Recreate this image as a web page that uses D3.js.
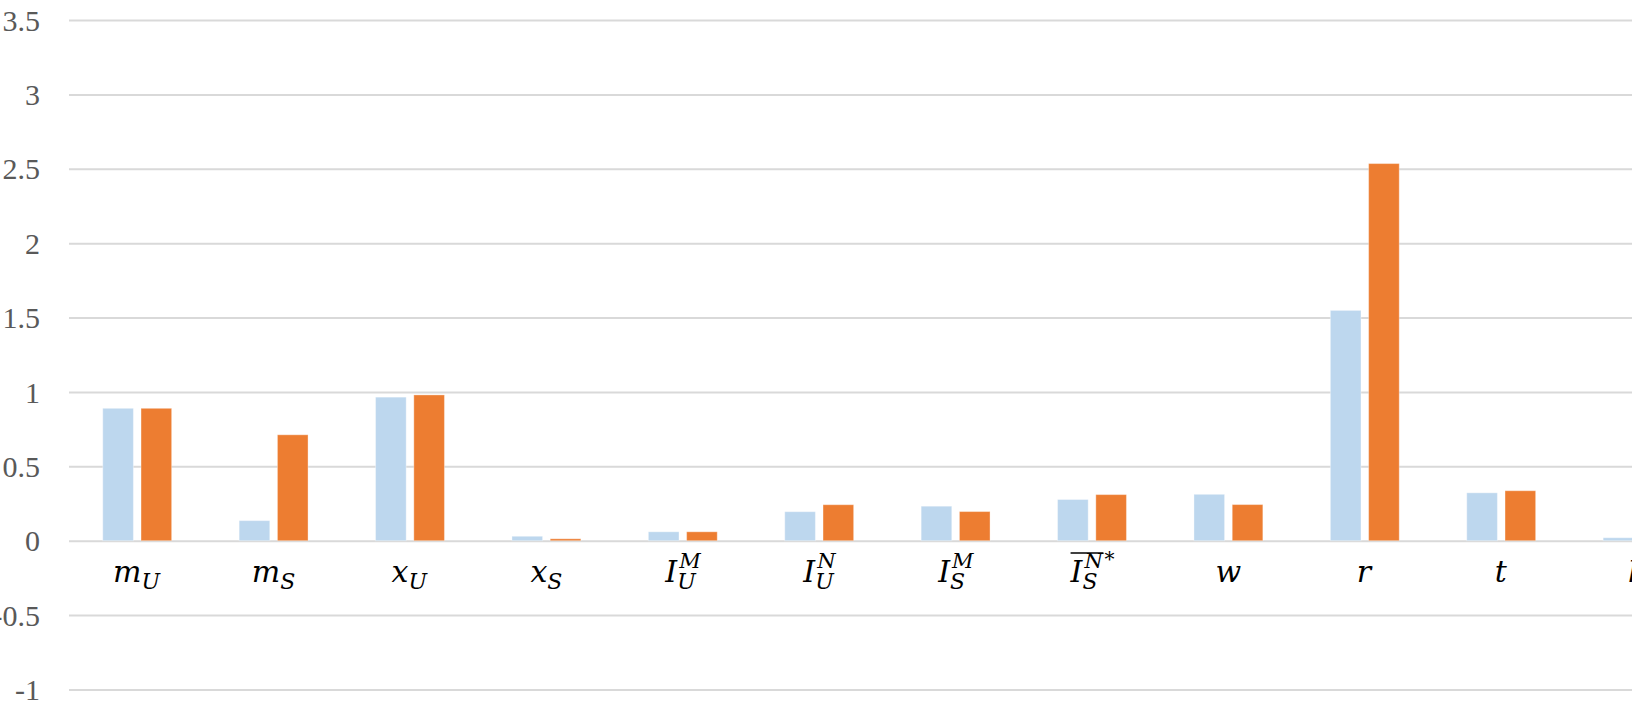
<!DOCTYPE html>
<html>
<head>
<meta charset="utf-8">
<script src="https://cdn.jsdelivr.net/npm/d3@7"></script>
<style>
  body { margin: 0; background: #fff; overflow: hidden; }
</style>
</head>
<body>
<svg id="chart" width="1632" height="704"></svg>
<script>
// categories: "_" subscript, "^" superscript, leading "~" overline, trailing "*" star
var categories = ["m_U", "m_S", "x_U", "x_S", "I_U^M", "I_U^N", "I_S^M", "~I_S^N*", "w", "r", "t", "b"];
var seriesA = [0.89, 0.135, 0.965, 0.03, 0.06, 0.195, 0.232, 0.277, 0.312, 1.548, 0.322, 0.02];
var seriesB = [0.89, 0.712, 0.98, 0.013, 0.06, 0.242, 0.196, 0.31, 0.243, 2.535, 0.336, 0.02];
var tickValues = [-1, -0.5, 0, 0.5, 1, 1.5, 2, 2.5, 3, 3.5];
var tickLabels = ["-1", "-0.5", "0", "0.5", "1", "1.5", "2", "2.5", "3", "3.5"];

var svg = d3.select("#chart");
var left = 69, step = 136.4;

var x0 = d3.scaleBand()
  .domain(categories)
  .range([left, left + step * categories.length])
  .paddingInner(0.495)
  .paddingOuter(0.2475);

var x1 = d3.scaleBand()
  .domain([0, 1])
  .range([0, x0.bandwidth()])
  .paddingInner(0.2)
  .paddingOuter(0);

var y = d3.scaleLinear().domain([-1, 3.5]).range([689.5, 20]);

// gridlines + y labels
var yAxis = d3.axisLeft(y)
  .tickValues(tickValues)
  .tickSize(-(1632 - left))
  .tickFormat(function (d, i) { return tickLabels[i]; });
var ax = svg.append("g")
  .attr("transform", "translate(" + left + ",0)")
  .call(yAxis);
ax.select(".domain").remove();
ax.selectAll(".tick line").attr("stroke", "#d9d9d9").attr("stroke-width", 2);
ax.selectAll(".tick text")
  .attr("x", -29)
  .attr("dy", "0.34em")
  .attr("fill", "#595959")
  .style("font-family", "'Liberation Serif', 'Times New Roman', serif")
  .style("font-size", "30px");

// bars
var series = [
  { values: seriesA, color: "#bdd7ee" },
  { values: seriesB, color: "#ed7d31" }
];
series.forEach(function (s, si) {
  svg.append("g")
    .selectAll("rect")
    .data(categories)
    .enter()
    .append("rect")
    .attr("x", function (d) { return x0(d) + x1(si); })
    .attr("width", x1.bandwidth())
    .attr("y", function (d, i) { return y(Math.max(0, s.values[i])); })
    .attr("height", function (d, i) { return Math.abs(y(s.values[i]) - y(0)); })
    .attr("fill", s.color)
    .attr("stroke", "#ffffff")
    .attr("stroke-opacity", 0.35)
    .attr("stroke-width", 1);
});

// category labels (math style)
var labelFont = "'DejaVu Serif', 'Liberation Serif', serif";
var baseY = 582;
categories.forEach(function (c) {
  var over = c.charAt(0) === "~";
  var star = c.charAt(c.length - 1) === "*";
  var s = c.replace("~", "").replace("*", "");
  var base = s.charAt(0);
  var sub = (s.match(/_([A-Za-z])/) || [])[1];
  var sup = (s.match(/\^([A-Za-z])/) || [])[1];

  var g = svg.append("g");
  var t = g.append("text")
    .attr("x", 0)
    .attr("y", baseY)
    .style("font-family", labelFont)
    .style("font-style", "italic")
    .attr("fill", "#000");
  t.append("tspan").style("font-size", "30px").text(base);
  var subW = 0;
  if (sub) {
    var ts = t.append("tspan").attr("y", baseY + 7).style("font-size", "22px").text(sub);
    subW = ts.node().getComputedTextLength();
  }
  if (sup) {
    t.append("tspan")
      .attr("dx", sub ? -subW + 2 : 0)
      .attr("y", baseY - 14)
      .style("font-size", "21px")
      .text(sup);
  }
  var bb = t.node().getBBox();
  var w = bb.width;
  if (over) {
    g.append("line")
      .attr("x1", bb.x + 1).attr("x2", bb.x + bb.width)
      .attr("y1", 553).attr("y2", 553)
      .attr("stroke", "#000").attr("stroke-width", 1.5);
  }
  if (star) {
    var st = g.append("text")
      .attr("x", bb.x + bb.width + 1)
      .attr("y", 566)
      .style("font-family", labelFont)
      .style("font-size", "20px")
      .attr("fill", "#000")
      .text("*");
    w = bb.width + 1 + st.node().getComputedTextLength();
  }
  g.attr("transform", "translate(" + (x0(c) + x0.bandwidth() / 2 - bb.x - w / 2) + ",0)");
});
</script>
</body>
</html>
